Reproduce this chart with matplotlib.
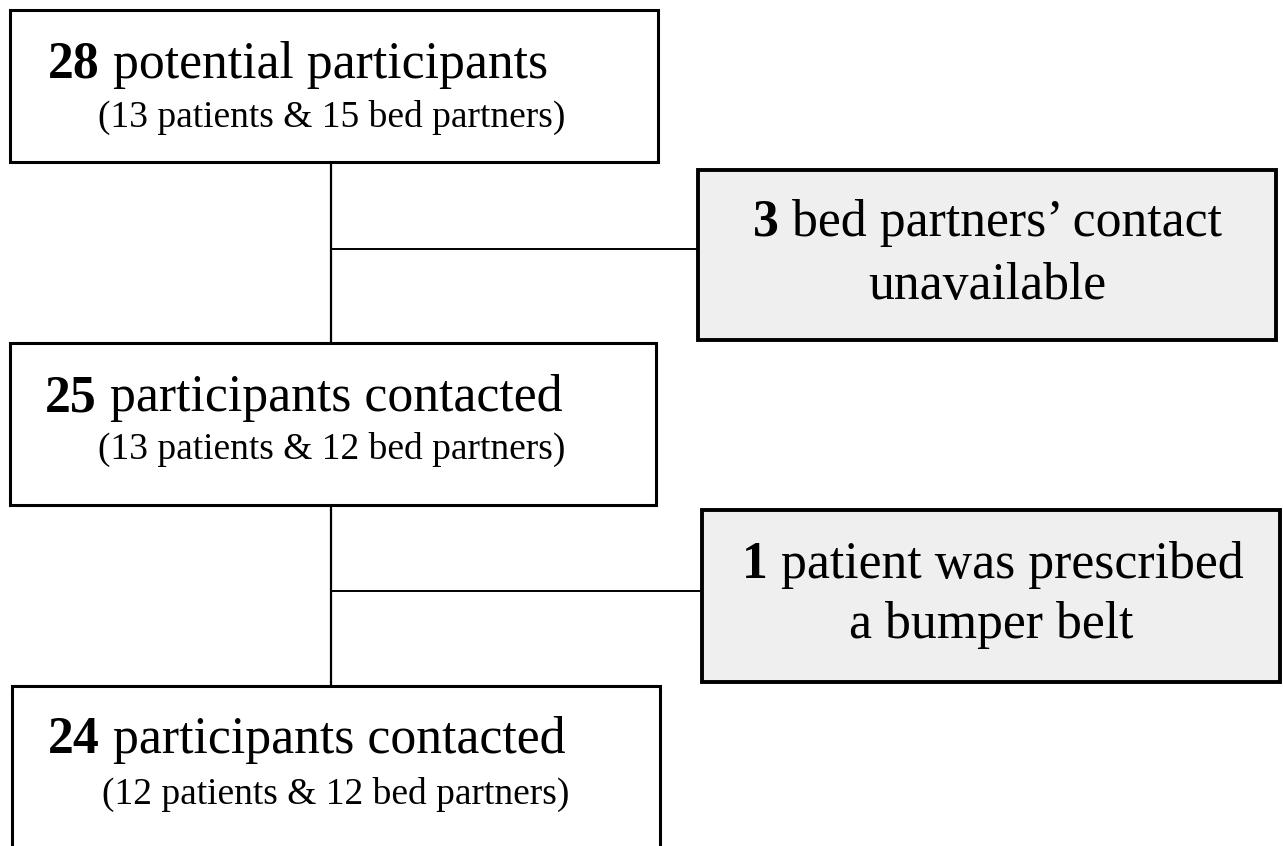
import matplotlib
matplotlib.use("Agg")
import matplotlib.pyplot as plt
from matplotlib.patches import Rectangle

plt.rcParams['font.family'] = ['Liberation Serif', 'DejaVu Serif']

# main flow: bold count, label, subtitle
counts = ["28", "25", "24"]
labels = ["potential participants", "participants contacted", "participants contacted"]
subs = ["(13 patients & 15 bed partners)",
        "(13 patients & 12 bed partners)",
        "(12 patients & 12 bed partners)"]

# exclusions
excl_counts = ["3", "1"]
excl_line1 = ["bed partners\u2019 contact", "patient was prescribed"]
excl_line2 = ["unavailable", "a bumper belt"]

# layout in pixels (x, y_top, w, h)
main_boxes = [(10, 10, 648, 152), (10, 343, 646, 162), (12, 686, 648, 180)]
main_text_x = [48, 45, 48]
main_base_y = [78, 411, 753]
sub_x = [98, 98, 102]
sub_base_y = [127, 459, 804]

excl_boxes = [(698, 170, 578, 170), (702, 510, 578, 172)]
excl_x1 = [753, 742]
excl_base1 = [236, 578]
excl_base2 = [299, 638]

W, H = 1283, 846
fig = plt.figure(figsize=(W / 100, H / 100), dpi=100)
ax = fig.add_axes([0, 0, 1, 1])
ax.set_xlim(0, W)
ax.set_ylim(H, 0)
ax.axis('off')

big = 37.3
small = 27

# connectors
ax.plot([331, 331], [162, 343], color='black', lw=1.6, zorder=1)
ax.plot([331, 698], [249, 249], color='black', lw=1.4, zorder=1)
ax.plot([331, 331], [505, 686], color='black', lw=1.6, zorder=1)
ax.plot([331, 702], [591, 591], color='black', lw=1.4, zorder=1)

for i in range(3):
    x, y, w, h = main_boxes[i]
    ax.add_patch(Rectangle((x, y), w, h, facecolor='white', edgecolor='black', lw=2.2, zorder=2))
    t = ax.text(main_text_x[i], main_base_y[i], counts[i], fontsize=big, fontweight='bold',
                va='baseline', ha='left', zorder=3)
    ax.annotate(" " + labels[i], xy=(1, 0), xycoords=t, fontsize=big,
                va='bottom', ha='left', zorder=3)
    ax.text(sub_x[i], sub_base_y[i], subs[i], fontsize=small, va='baseline', ha='left', zorder=3)

for i in range(2):
    x, y, w, h = excl_boxes[i]
    ax.add_patch(Rectangle((x, y), w, h, facecolor='#efefef', edgecolor='black', lw=2.8, zorder=2))
    t = ax.text(excl_x1[i], excl_base1[i], excl_counts[i], fontsize=big, fontweight='bold',
                va='baseline', ha='left', zorder=3)
    ax.annotate(" " + excl_line1[i], xy=(1, 0), xycoords=t, fontsize=big,
                va='bottom', ha='left', zorder=3)
    ax.text(x + w / 2, excl_base2[i], excl_line2[i], fontsize=big, va='baseline',
            ha='center', zorder=3)

fig.savefig("out.png", dpi=100)
